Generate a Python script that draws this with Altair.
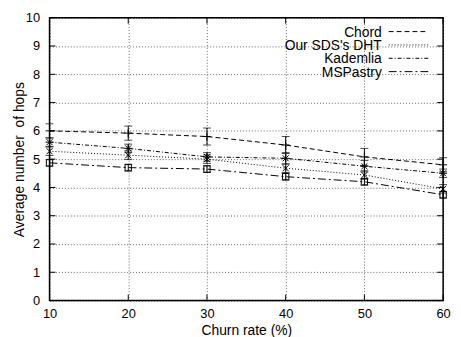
import altair as alt
import pandas as pd

churn = [10, 20, 30, 40, 50, 60]
series_names = ["Chord", "Our SDS's DHT", "Kademlia", "MSPastry"]
chord = [6.0, 5.92, 5.8, 5.5, 5.08, 4.8]
chord_err = [0.25, 0.25, 0.3, 0.3, 0.3, 0.25]
sds = [5.28, 5.14, 5.0, 4.68, 4.44, 3.95]
sds_err = [0.15, 0.15, 0.15, 0.15, 0.15, 0.15]
kad = [5.6, 5.38, 5.08, 5.03, 4.75, 4.5]
kad_err = [0.15, 0.15, 0.15, 0.2, 0.2, 0.15]
msp = [4.87, 4.7, 4.65, 4.38, 4.2, 3.74]
msp_err = [0.12, 0.12, 0.12, 0.12, 0.12, 0.12]
x_ticks = [10, 20, 30, 40, 50, 60]
y_ticks = [0, 1, 2, 3, 4, 5, 6, 7, 8, 9, 10]

dashes = [[5, 3], [1, 2], [4, 2, 1, 2], [8, 3, 2, 3]]
shapes = [
    "M-1,0L1,0M0,-1L0,1",
    "M-0.75,-0.75L0.75,0.75M-0.75,0.75L0.75,-0.75",
    "M-1,0L1,0M0,-1L0,1M-0.75,-0.75L0.75,0.75M-0.75,0.75L0.75,-0.75",
    "M-0.8,-0.8L0.8,-0.8L0.8,0.8L-0.8,0.8Z",
]

rows = []
for name, vals, errs in [("Chord", chord, chord_err), ("Our SDS's DHT", sds, sds_err),
                         ("Kademlia", kad, kad_err), ("MSPastry", msp, msp_err)]:
    for c, v, e in zip(churn, vals, errs):
        rows.append({"churn": c, "hops": v, "lo": v - e, "hi": v + e, "series": name})
df = pd.DataFrame(rows)

W, H = 398, 286
FONT = "Liberation Sans"

xs = alt.Scale(domain=[10, 60], nice=False)
ys = alt.Scale(domain=[0, 10], nice=False)

xax = alt.Axis(values=x_ticks, title="Churn rate (%)", ticks=False, domain=False,
               grid=True, gridDash=[1, 2], gridColor="#666", labelPadding=7,
               titlePadding=3, labelFont=FONT, titleFont=FONT, labelFontSize=13,
               titleFontSize=14, titleFontWeight="normal", labelColor="black",
               titleColor="black", labelFlush=False, labelOverlap=False)
yax = alt.Axis(values=y_ticks, title="Average number\u00a0 of hops", ticks=False, domain=False,
               grid=True, gridDash=[1, 2], gridColor="#666", labelPadding=10,
               titlePadding=-1, labelFont=FONT, titleFont=FONT, labelFontSize=13,
               titleFontSize=14, titleFontWeight="normal", labelColor="black",
               titleColor="black", labelFlush=False, labelOverlap=False)

base = alt.Chart(df)
dash_enc = alt.StrokeDash("series:N", scale=alt.Scale(domain=series_names, range=dashes), legend=None)

X = lambda f: alt.X(f, scale=xs, axis=xax)
Y = lambda f: alt.Y(f, scale=ys, axis=yax)

lines = base.mark_line(color="black", strokeWidth=1).encode(
    x=X("churn:Q"), y=Y("hops:Q"),
    strokeDash=dash_enc,
    detail="series:N",
)
bars = base.mark_rule(color="black", strokeWidth=1).encode(
    x=X("churn:Q"), y=Y("lo:Q"), y2="hi:Q")
cap_lo = base.mark_tick(color="black", orient="horizontal", size=8, thickness=1).encode(
    x=X("churn:Q"), y=Y("lo:Q"))
cap_hi = base.mark_tick(color="black", orient="horizontal", size=8, thickness=1).encode(
    x=X("churn:Q"), y=Y("hi:Q"))
pts = base.mark_point(color="black", filled=False, strokeWidth=1, size=64, opacity=1).encode(
    x=X("churn:Q"), y=Y("hops:Q"),
    shape=alt.Shape("series:N", scale=alt.Scale(domain=series_names, range=shapes), legend=None),
)

tickdf_y = pd.DataFrame({"churn": [10] * len(y_ticks), "hops": y_ticks})
tickdf_x = pd.DataFrame({"churn": x_ticks, "hops": [0] * len(x_ticks)})
ytl = alt.Chart(tickdf_y).mark_rule(color="black").encode(y=Y("hops:Q"), x=alt.value(0), x2=alt.value(6))
ytr = alt.Chart(tickdf_y).mark_rule(color="black").encode(y=Y("hops:Q"), x=alt.value(W - 6), x2=alt.value(W))
xtb = alt.Chart(tickdf_x).mark_rule(color="black").encode(x=X("churn:Q"), y=alt.value(H), y2=alt.value(H - 6))
xtt = alt.Chart(tickdf_x).mark_rule(color="black").encode(x=X("churn:Q"), y=alt.value(0), y2=alt.value(6))

frame = alt.Chart(pd.DataFrame({"f": [0]})).mark_rect(
    fillOpacity=0, fill="white", stroke="black", strokeWidth=1.5).encode(
    x=alt.value(0), x2=alt.value(W), y=alt.value(0), y2=alt.value(H))

legend_layers = []
row_y = [14, 27.5, 41, 54.5]
for i, name in enumerate(series_names):
    ldf = pd.DataFrame({"label": [name]})
    legend_layers.append(
        alt.Chart(ldf).mark_text(align="right", baseline="middle", font=FONT, fontSize=14, color="black").encode(
            text="label:N", x=alt.value(336), y=alt.value(row_y[i] + 1))
    )
    legend_layers.append(
        alt.Chart(ldf).mark_rule(color="black", strokeWidth=1, strokeDash=dashes[i]).encode(
            x=alt.value(343), x2=alt.value(383), y=alt.value(row_y[i]))
    )

chart = alt.layer(lines, bars, cap_lo, cap_hi, pts, ytl, ytr, xtb, xtt, frame, *legend_layers).properties(
    width=W, height=H,
    autosize=alt.AutoSizeParams(type="none"),
    padding={"left": 42, "top": 8, "right": 10, "bottom": 35},
).configure_view(stroke="black", strokeWidth=1.5).configure(background="white")

chart.save("out.html", embed_options={"renderer": "svg", "actions": False})
